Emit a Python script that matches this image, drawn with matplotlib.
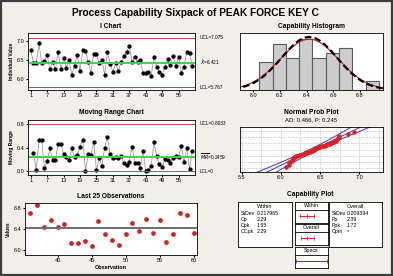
import numpy as np
import matplotlib
matplotlib.use('Agg')
import matplotlib.pyplot as plt
from matplotlib.patches import Rectangle
from statistics import NormalDist

values = [6.74, 6.42, 6.40, 6.93, 6.40, 6.46, 6.63, 6.24, 6.44, 6.24,
          6.70, 6.24, 6.54, 6.29, 6.49, 6.10, 6.34, 6.62, 6.20, 6.74,
          6.73, 6.43, 6.16, 6.66, 6.64, 6.41, 6.50, 6.10, 6.69, 6.39,
          6.17, 6.41, 6.19, 6.45, 6.59, 6.70, 6.86, 6.44, 6.58, 6.43,
          6.49, 6.14, 6.14, 6.17, 6.07, 6.56, 6.30, 6.18, 6.10, 6.31,
          6.51, 6.37, 6.59, 6.33, 6.58, 6.15, 6.31, 6.71, 6.67, 6.33]

# control limits / stats printed on the chart
i_ucl, i_center, i_lcl = 7.075, 6.421, 5.767
mr_ucl, mr_center, mr_lcl = 0.8033, 0.2459, 0.0
sd_within, sd_overall = 0.217965, 0.209394
lsl, usl = 5.34, 8.34
ad_text = 'AD: 0.466, P: 0.245'
within_stats = [('StDev', '0.217965'), ('Cp', '2.29'), ('Cpk', '1.65'), ('CCpk', '2.29')]
overall_stats = [('StDev', '0.209394'), ('Pp', '2.39'), ('Ppk', '1.72'), ('Cpm', '*')]
x_ticks = [1, 7, 13, 19, 25, 31, 37, 43, 49, 55]
hist_edges = [6.045, 6.145, 6.245, 6.345, 6.445, 6.545, 6.645, 6.745, 6.845, 6.945]

plt.rcParams['font.family'] = ['Liberation Sans', 'DejaVu Sans']
plt.rcParams['mathtext.fontset'] = 'dejavusans'
plt.rcParams['xtick.labelsize'] = 4
plt.rcParams['ytick.labelsize'] = 4
plt.rcParams['xtick.major.size'] = 1.5
plt.rcParams['ytick.major.size'] = 1.5
plt.rcParams['xtick.major.pad'] = 1
plt.rcParams['ytick.major.pad'] = 1
plt.rcParams['axes.linewidth'] = 0.6

W, H = 393, 276
BG = '#f1efe7'
fig = plt.figure(figsize=(W / 100, H / 100), dpi=100, facecolor=BG)


def px(x, y, w, h):
    return [x / W, 1 - (y + h) / H, w / W, h / H]


def ftext(x, y, s, **kw):
    fig.text(x / W, 1 - y / H, s, **kw)


fig.patches.append(Rectangle((0.003, 0.004), 0.994, 0.992, transform=fig.transFigure,
                             fill=False, edgecolor='#3c3c3c', lw=1.6))

vals = np.array(values)
n = len(vals)
obs = np.arange(1, n + 1)
mr = np.abs(np.diff(vals))

ftext(195, 13, 'Process Capability Sixpack of PEAK FORCE KEY C', ha='center', va='center',
      fontsize=7.3, fontweight='bold')

# I chart
ax = fig.add_axes(px(28, 33, 167, 57))
ax.plot(obs, vals, color='#8a8a8a', lw=0.5, marker='o', ms=2.1, mfc='black', mec='black')
ax.axhline(i_center, color='#44d044', lw=1.4)
ax.axhline(i_ucl, color='#b84a4a', lw=0.7)
ax.axhline(i_lcl, color='#b84a4a', lw=0.7)
ax.set_xlim(0, 61)
ax.set_ylim(5.70, 7.20)
ax.set_xticks(x_ticks)
ax.set_yticks([6.0, 6.5, 7.0])
ax.set_ylabel('Individual Value', fontsize=3.5, fontweight='bold', labelpad=2)
for v, s in [(i_ucl, 'UCL=7.075'), (i_center, r'$\bar{X}$=6.421'), (i_lcl, 'LCL=5.767')]:
    ax.text(1.03, v, s, transform=ax.get_yaxis_transform(), fontsize=3.4, va='center')
ftext(111, 26, 'I Chart', ha='center', va='center', fontsize=4.8, fontweight='bold')

# Moving range chart
ax = fig.add_axes(px(28, 120, 167, 55))
ax.plot(obs[1:], mr, color='#8a8a8a', lw=0.5, marker='o', ms=2.1, mfc='black', mec='black')
ax.axhline(mr_center, color='#44d044', lw=1.4)
ax.axhline(mr_ucl, color='#b84a4a', lw=0.7)
ax.axhline(mr_lcl, color='#b84a4a', lw=0.7)
ax.set_xlim(0, 61)
ax.set_ylim(-0.06, 0.87)
ax.set_xticks(x_ticks)
ax.set_yticks([0.0, 0.4, 0.8])
ax.set_ylabel('Moving Range', fontsize=3.5, fontweight='bold', labelpad=2)
for v, s in [(mr_ucl, 'UCL=0.8033'), (mr_center, r'$\overline{MR}$=0.2459'), (mr_lcl, 'LCL=0')]:
    ax.text(1.03, v, s, transform=ax.get_yaxis_transform(), fontsize=3.4, va='center')
ftext(111, 112, 'Moving Range Chart', ha='center', va='center', fontsize=4.8, fontweight='bold')

# Last 25 observations
ax = fig.add_axes(px(25, 203, 172, 52))
ax.plot(obs[-25:], vals[-25:], 'o', ms=2.4, color='#d42020')
ax.axhline(i_center, color='#6e6e6e', lw=1.4)
ax.set_xlim(35.2, 60.5)
ax.set_ylim(5.9, 6.9)
ax.set_xticks([40, 45, 50, 55, 60])
ax.set_yticks([6.0, 6.4, 6.8])
ax.set_ylabel('Values', fontsize=3.5, fontweight='bold', labelpad=2)
ax.set_xlabel('Observation', fontsize=4, fontweight='bold', labelpad=1)
ftext(111, 196, 'Last 25 Observations', ha='center', va='center', fontsize=4.8, fontweight='bold')

# Capability histogram
ax = fig.add_axes(px(240, 33, 143, 57))
ax.hist(vals, bins=hist_edges, color='#cdcdcd', edgecolor='#5a5a5a', lw=0.8)
xs = np.linspace(5.85, 7.0, 300)
bw = hist_edges[1] - hist_edges[0]
mean = i_center
pdf_w = n * bw * np.exp(-0.5 * ((xs - mean) / sd_within) ** 2) / (sd_within * np.sqrt(2 * np.pi))
pdf_o = n * bw * np.exp(-0.5 * ((xs - mean) / sd_overall) ** 2) / (sd_overall * np.sqrt(2 * np.pi))
ax.plot(xs, pdf_w, color='#e02020', lw=0.9)
ax.plot(xs, pdf_o, color='black', lw=1.6, ls=(0, (3, 1.5)))
ax.set_xlim(5.9, 6.975)
ax.set_ylim(0, 12.3)
ax.set_xticks([6.0, 6.2, 6.4, 6.6, 6.8])
ax.set_yticks([])
ftext(311, 27, 'Capability Histogram', ha='center', va='center', fontsize=4.8, fontweight='bold')

# Normal probability plot
ax = fig.add_axes(px(240, 127, 143, 45))
srt = np.sort(vals)
p = (np.arange(1, n + 1) - 0.3) / (n + 0.4)
nd = NormalDist()
zq = np.array([nd.inv_cdf(v) for v in p])
L = 2.85
zl = np.linspace(-3.5, 3.5, 100)
fit = mean + zl * sd_overall
half = 1.96 * np.sqrt(sd_overall ** 2 / n + zl ** 2 * sd_overall ** 2 / (2 * n))
for off in (-half, 0, half):
    ax.plot(fit + off, zl, color='#3a3ab4', lw=0.7)
ax.plot(srt, zq, 'o', ms=2.2, color='#e02020')
grid_p = [0.01, 0.05, 0.2, 0.5, 0.8, 0.95, 0.99]
for gp in grid_p:
    ax.axhline(nd.inv_cdf(gp), color='#c8c8c8', lw=0.5, ls='--', zorder=0)
for gx in np.arange(5.5, 7.3, 0.25):
    ax.axvline(gx, color='#c8c8c8', lw=0.5, ls='--', zorder=0)
ax.set_xlim(5.48, 7.30)
ax.set_ylim(-L, L)
ax.set_xticks([5.5, 6.0, 6.5, 7.0])
ax.set_yticks([])
ftext(311, 112, 'Normal Prob Plot', ha='center', va='center', fontsize=4.8, fontweight='bold')
ftext(311, 120, ad_text, ha='center', va='center', fontsize=4.3)

# Capability plot
ftext(310, 195, 'Capability Plot', ha='center', va='center', fontsize=4.8, fontweight='bold')


def boxax(x, y, w, h):
    a = fig.add_axes(px(x, y, w, h))
    a.set_xticks([])
    a.set_yticks([])
    for s in a.spines.values():
        s.set_linewidth(0.6)
    return a


for bx, head, stats in [(238, 'Within', within_stats), (329, 'Overall', overall_stats)]:
    a = boxax(bx, 202, 54 if head == 'Within' else 53, 45)
    a.text(0.5, 0.9, head, ha='center', va='center', fontsize=4, transform=a.transAxes)
    for k, (lab, val) in enumerate(stats):
        yy = 0.74 - k * 0.13
        a.text(0.05, yy, lab, fontsize=3.8, va='center', transform=a.transAxes)
        a.text(0.34, yy, val, fontsize=3.8, va='center', transform=a.transAxes)

intervals = [('Within', 202, [mean - 3 * sd_within, mean, mean + 3 * sd_within], '#e02020'),
             ('Overall', 224, [mean - 3 * sd_overall, mean, mean + 3 * sd_overall], '#e02020'),
             ('Specs', 247, [lsl, usl], '#3a3ab4')]
for head, y0, pts, col in intervals:
    a = boxax(295, y0, 33, 7.5)
    a.text(0.5, 0.5, head, ha='center', va='center', fontsize=3.8, transform=a.transAxes)
    a = boxax(295, y0 + 7.5, 33, 13)
    a.plot(pts, [0] * len(pts), color=col, lw=0.7)
    a.plot(pts, [0] * len(pts), '|', color='#e02020', ms=3, mew=0.6)
    a.set_xlim(lsl - 0.1, usl + 0.12)
    a.set_ylim(-1, 1)

fig.savefig('out.png', dpi=100, facecolor=BG)
